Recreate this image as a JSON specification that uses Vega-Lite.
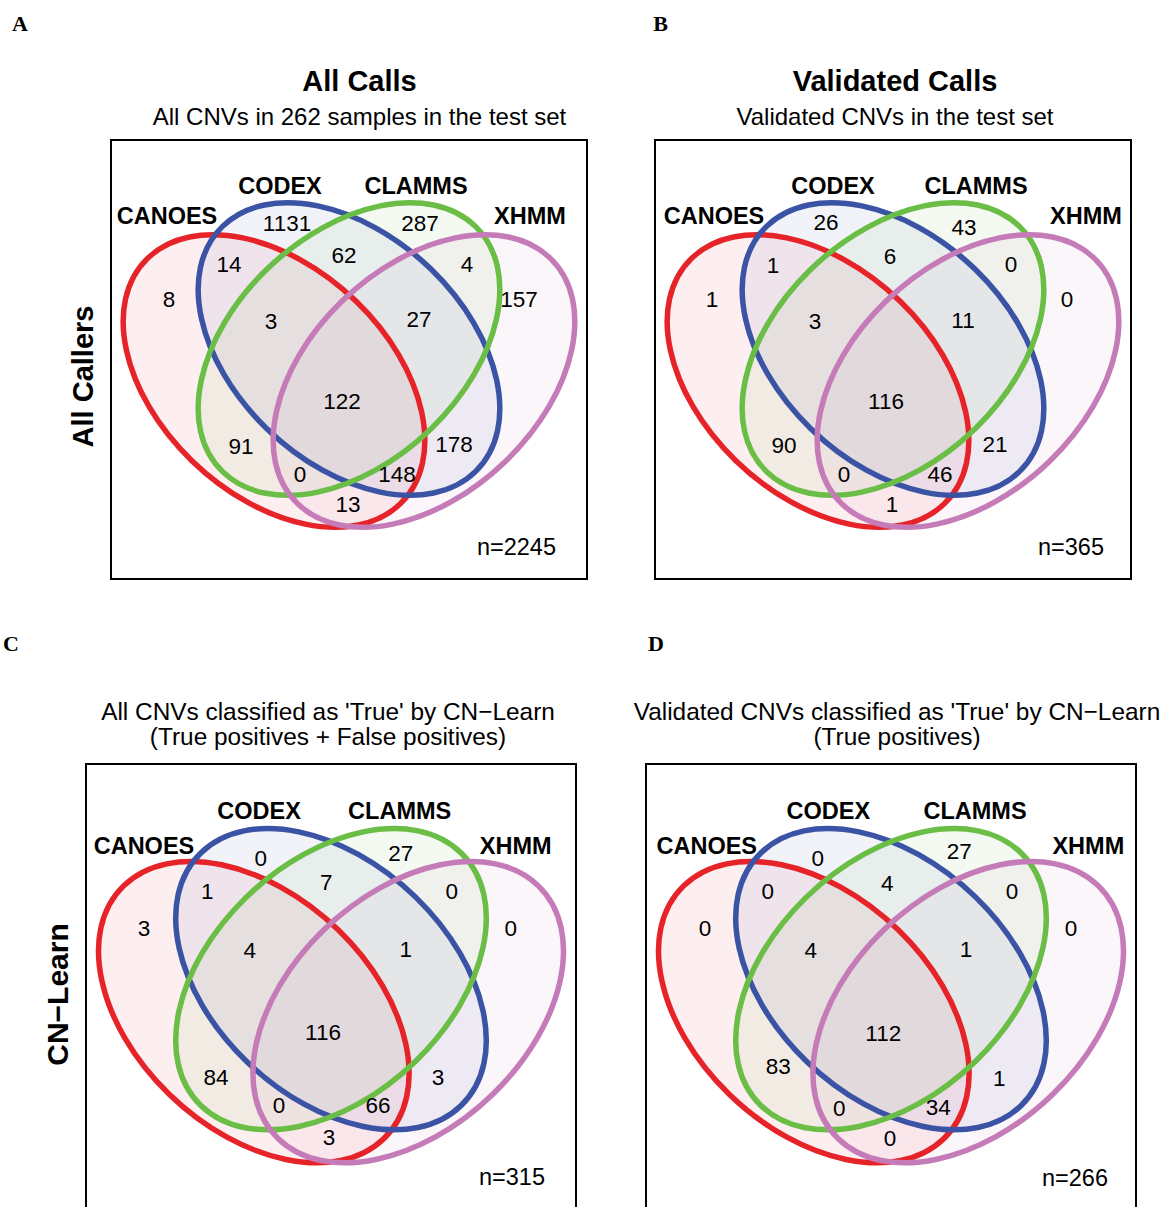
{
  "$schema": "https://vega.github.io/schema/vega-lite/v6.json",
  "background": "white",
  "padding": {"left": 3, "top": 12, "right": 0, "bottom": 0},
  "datasets": {
    "ellipses": [
      {"set": "CANOES", "x": 163, "y": 241},
      {"set": "CODEX", "x": 238, "y": 209},
      {"set": "CLAMMS", "x": 238, "y": 209},
      {"set": "XHMM", "x": 313, "y": 241}
    ],
    "frame": [
      {"x": 0, "x2": 476, "y": 0, "y2": 439}
    ],
    "labels": [
      {"panel": "A", "set": "CANOES", "x": 56, "y": 77},
      {"panel": "A", "set": "CODEX", "x": 169, "y": 47},
      {"panel": "A", "set": "CLAMMS", "x": 305, "y": 47},
      {"panel": "A", "set": "XHMM", "x": 419, "y": 77},
      {"panel": "B", "set": "CANOES", "x": 59, "y": 77},
      {"panel": "B", "set": "CODEX", "x": 178, "y": 47},
      {"panel": "B", "set": "CLAMMS", "x": 321, "y": 47},
      {"panel": "B", "set": "XHMM", "x": 431, "y": 77},
      {"panel": "C", "set": "CANOES", "x": 56.3, "y": 80.6},
      {"panel": "C", "set": "CODEX", "x": 168.1, "y": 46.6},
      {"panel": "C", "set": "CLAMMS", "x": 304.7, "y": 46.6},
      {"panel": "C", "set": "XHMM", "x": 417.4, "y": 80.6},
      {"panel": "D", "set": "CANOES", "x": 59, "y": 80.6},
      {"panel": "D", "set": "CODEX", "x": 177.1, "y": 46.6},
      {"panel": "D", "set": "CLAMMS", "x": 319.6, "y": 46.6},
      {"panel": "D", "set": "XHMM", "x": 429.7, "y": 80.6}
    ],
    "counts": [
      {"panel": "A", "region": "CODEX", "x": 176, "y": 84, "count": 1131},
      {"panel": "A", "region": "CLAMMS", "x": 309, "y": 84, "count": 287},
      {"panel": "A", "region": "CANOES&CODEX", "x": 118, "y": 125, "count": 14},
      {"panel": "A", "region": "CODEX&CLAMMS", "x": 233, "y": 116, "count": 62},
      {"panel": "A", "region": "CLAMMS&XHMM", "x": 356, "y": 125, "count": 4},
      {"panel": "A", "region": "CANOES", "x": 58, "y": 160, "count": 8},
      {"panel": "A", "region": "XHMM", "x": 408, "y": 160, "count": 157},
      {"panel": "A", "region": "CANOES&CODEX&CLAMMS", "x": 160, "y": 182, "count": 3},
      {"panel": "A", "region": "CODEX&CLAMMS&XHMM", "x": 308, "y": 180, "count": 27},
      {"panel": "A", "region": "ALL", "x": 231, "y": 262, "count": 122},
      {"panel": "A", "region": "CANOES&CLAMMS", "x": 130, "y": 307, "count": 91},
      {"panel": "A", "region": "CODEX&XHMM", "x": 343, "y": 305, "count": 178},
      {"panel": "A", "region": "CANOES&CLAMMS&XHMM", "x": 189, "y": 335, "count": 0},
      {"panel": "A", "region": "CANOES&CODEX&XHMM", "x": 286, "y": 335, "count": 148},
      {"panel": "A", "region": "CANOES&XHMM", "x": 237, "y": 365, "count": 13},
      {"panel": "B", "region": "CODEX", "x": 171, "y": 83, "count": 26},
      {"panel": "B", "region": "CLAMMS", "x": 309, "y": 88, "count": 43},
      {"panel": "B", "region": "CANOES&CODEX", "x": 118, "y": 126, "count": 1},
      {"panel": "B", "region": "CODEX&CLAMMS", "x": 235, "y": 117, "count": 6},
      {"panel": "B", "region": "CLAMMS&XHMM", "x": 356, "y": 125, "count": 0},
      {"panel": "B", "region": "CANOES", "x": 57, "y": 160, "count": 1},
      {"panel": "B", "region": "XHMM", "x": 412, "y": 160, "count": 0},
      {"panel": "B", "region": "CANOES&CODEX&CLAMMS", "x": 160, "y": 182, "count": 3},
      {"panel": "B", "region": "CODEX&CLAMMS&XHMM", "x": 308, "y": 181, "count": 11},
      {"panel": "B", "region": "ALL", "x": 231, "y": 262, "count": 116},
      {"panel": "B", "region": "CANOES&CLAMMS", "x": 129, "y": 306, "count": 90},
      {"panel": "B", "region": "CODEX&XHMM", "x": 340, "y": 305, "count": 21},
      {"panel": "B", "region": "CANOES&CLAMMS&XHMM", "x": 189, "y": 335, "count": 0},
      {"panel": "B", "region": "CANOES&CODEX&XHMM", "x": 285, "y": 335, "count": 46},
      {"panel": "B", "region": "CANOES&XHMM", "x": 237, "y": 365, "count": 1},
      {"panel": "C", "region": "CODEX", "x": 169.7, "y": 92, "count": 0},
      {"panel": "C", "region": "CLAMMS", "x": 305.7, "y": 87, "count": 27},
      {"panel": "C", "region": "CANOES&CODEX", "x": 117.8, "y": 124.3, "count": 1},
      {"panel": "C", "region": "CODEX&CLAMMS", "x": 233.4, "y": 115.3, "count": 7},
      {"panel": "C", "region": "CLAMMS&XHMM", "x": 355.3, "y": 124.3, "count": 0},
      {"panel": "C", "region": "CANOES", "x": 56.3, "y": 160, "count": 3},
      {"panel": "C", "region": "XHMM", "x": 412.6, "y": 160, "count": 0},
      {"panel": "C", "region": "CANOES&CODEX&CLAMMS", "x": 159, "y": 182, "count": 4},
      {"panel": "C", "region": "CODEX&CLAMMS&XHMM", "x": 310.6, "y": 181, "count": 1},
      {"panel": "C", "region": "ALL", "x": 230.2, "y": 261.3, "count": 116},
      {"panel": "C", "region": "CANOES&CLAMMS", "x": 126.3, "y": 305, "count": 84},
      {"panel": "C", "region": "CODEX&XHMM", "x": 342, "y": 305, "count": 3},
      {"panel": "C", "region": "CANOES&CLAMMS&XHMM", "x": 187.5, "y": 332.2, "count": 0},
      {"panel": "C", "region": "CANOES&CODEX&XHMM", "x": 283.7, "y": 332.2, "count": 66},
      {"panel": "C", "region": "CANOES&XHMM", "x": 236.1, "y": 363.3, "count": 3},
      {"panel": "D", "region": "CODEX", "x": 166.8, "y": 92, "count": 0},
      {"panel": "D", "region": "CLAMMS", "x": 304.4, "y": 85.5, "count": 27},
      {"panel": "D", "region": "CANOES&CODEX", "x": 118.2, "y": 124.3, "count": 0},
      {"panel": "D", "region": "CODEX&CLAMMS", "x": 234.4, "y": 116.3, "count": 4},
      {"panel": "D", "region": "CLAMMS&XHMM", "x": 355.6, "y": 124.3, "count": 0},
      {"panel": "D", "region": "CANOES", "x": 57.3, "y": 160, "count": 0},
      {"panel": "D", "region": "XHMM", "x": 412.9, "y": 160, "count": 0},
      {"panel": "D", "region": "CANOES&CODEX&CLAMMS", "x": 160, "y": 182, "count": 4},
      {"panel": "D", "region": "CODEX&CLAMMS&XHMM", "x": 310.9, "y": 181, "count": 1},
      {"panel": "D", "region": "ALL", "x": 230.5, "y": 262, "count": 112},
      {"panel": "D", "region": "CANOES&CLAMMS", "x": 128.5, "y": 294.3, "count": 83},
      {"panel": "D", "region": "CODEX&XHMM", "x": 343.2, "y": 305.7, "count": 1},
      {"panel": "D", "region": "CANOES&CLAMMS&XHMM", "x": 187.8, "y": 334.9, "count": 0},
      {"panel": "D", "region": "CANOES&CODEX&XHMM", "x": 284, "y": 334.2, "count": 34},
      {"panel": "D", "region": "CANOES&XHMM", "x": 237, "y": 364, "count": 0}
    ],
    "totals": [
      {"panel": "A", "label": "n=2245", "x": 445, "y": 408},
      {"panel": "B", "label": "n=365", "x": 449, "y": 408},
      {"panel": "C", "label": "n=315", "x": 445.9, "y": 402.2},
      {"panel": "D", "label": "n=266", "x": 448.8, "y": 402.8}
    ],
    "letters": [
      {"panel": "A", "letter": "A", "x": -91, "y": -116.5},
      {"panel": "B", "letter": "B", "x": 5.5, "y": -116.5},
      {"panel": "C", "letter": "C", "x": -72.9, "y": -117},
      {"panel": "D", "letter": "D", "x": 9.7, "y": -117}
    ]
  },
  "spacing": 52,
  "vconcat": [
    {
      "spacing": 65,
      "hconcat": [
        {
          "width": 501, "height": 439,
          "title": {"text": "All Calls", "subtitle": "All CNVs in 262 samples in the test set", "fontSize": 29, "fontWeight": "bold", "subtitleFontSize": 24, "subtitlePadding": 9, "offset": -117, "dx": 23},
          "encoding": {
            "x": {"field": "x", "type": "quantitative", "scale": {"domain": [-25, 476], "nice": false, "zero": false}, "axis": null},
            "y": {"field": "y", "type": "quantitative", "scale": {"domain": [0, 439], "nice": false, "zero": false, "reverse": true},
                  "axis": {"title": "All Callers", "titleFontSize": 29, "titleFontWeight": "bold", "titleFont": "Liberation Sans", "titleColor": "black", "labels": false, "ticks": false, "domain": false, "grid": false, "offset": -25, "titlePadding": 13, "titleY": 236}}
          },
          "layer": [
            {"data": {"name": "ellipses"}, "mark": {"type": "point", "filled": true, "size": 127878, "opacity": 1, "fillOpacity": 0.07, "strokeWidth": 0},
             "encoding": {"shape": {"field": "set", "type": "nominal", "legend": null, "scale": {"domain": ["CANOES", "CODEX", "CLAMMS", "XHMM"], "range": ["M 0.7071 0.6859 C 0.4533 0.9322 -0.0691 0.8246 -0.4596 0.4458 C -0.8501 0.067 -0.961 -0.4397 -0.7071 -0.6859 C -0.4533 -0.9322 0.0691 -0.8246 0.4596 -0.4458 C 0.8501 -0.067 0.961 0.4397 0.7071 0.6859 Z", "M 0.7071 0.6859 C 0.4533 0.9322 -0.0691 0.8246 -0.4596 0.4458 C -0.8501 0.067 -0.961 -0.4397 -0.7071 -0.6859 C -0.4533 -0.9322 0.0691 -0.8246 0.4596 -0.4458 C 0.8501 -0.067 0.961 0.4397 0.7071 0.6859 Z", "M -0.7071 0.6859 C -0.4533 0.9322 0.0691 0.8246 0.4596 0.4458 C 0.8501 0.067 0.961 -0.4397 0.7071 -0.6859 C 0.4533 -0.9322 -0.0691 -0.8246 -0.4596 -0.4458 C -0.8501 -0.067 -0.961 0.4397 -0.7071 0.6859 Z", "M -0.7071 0.6859 C -0.4533 0.9322 0.0691 0.8246 0.4596 0.4458 C 0.8501 0.067 0.961 -0.4397 0.7071 -0.6859 C 0.4533 -0.9322 -0.0691 -0.8246 -0.4596 -0.4458 C -0.8501 -0.067 -0.961 0.4397 -0.7071 0.6859 Z"]}},
                          "fill": {"field": "set", "type": "nominal", "legend": null, "scale": {"domain": ["CANOES", "CODEX", "CLAMMS", "XHMM"], "range": ["#e62328", "#3a53a4", "#6abd45", "#c47bb7"]}}}},
            {"data": {"name": "ellipses"}, "mark": {"type": "point", "filled": false, "size": 127878, "opacity": 1, "strokeWidth": 5.5},
             "encoding": {"shape": {"field": "set", "type": "nominal", "legend": null, "scale": {"domain": ["CANOES", "CODEX", "CLAMMS", "XHMM"], "range": ["M 0.7071 0.6859 C 0.4533 0.9322 -0.0691 0.8246 -0.4596 0.4458 C -0.8501 0.067 -0.961 -0.4397 -0.7071 -0.6859 C -0.4533 -0.9322 0.0691 -0.8246 0.4596 -0.4458 C 0.8501 -0.067 0.961 0.4397 0.7071 0.6859 Z", "M 0.7071 0.6859 C 0.4533 0.9322 -0.0691 0.8246 -0.4596 0.4458 C -0.8501 0.067 -0.961 -0.4397 -0.7071 -0.6859 C -0.4533 -0.9322 0.0691 -0.8246 0.4596 -0.4458 C 0.8501 -0.067 0.961 0.4397 0.7071 0.6859 Z", "M -0.7071 0.6859 C -0.4533 0.9322 0.0691 0.8246 0.4596 0.4458 C 0.8501 0.067 0.961 -0.4397 0.7071 -0.6859 C 0.4533 -0.9322 -0.0691 -0.8246 -0.4596 -0.4458 C -0.8501 -0.067 -0.961 0.4397 -0.7071 0.6859 Z", "M -0.7071 0.6859 C -0.4533 0.9322 0.0691 0.8246 0.4596 0.4458 C 0.8501 0.067 0.961 -0.4397 0.7071 -0.6859 C 0.4533 -0.9322 -0.0691 -0.8246 -0.4596 -0.4458 C -0.8501 -0.067 -0.961 0.4397 -0.7071 0.6859 Z"]}},
                          "stroke": {"field": "set", "type": "nominal", "legend": null, "scale": {"domain": ["CANOES", "CODEX", "CLAMMS", "XHMM"], "range": ["#e62328", "#3a53a4", "#6abd45", "#c47bb7"]}}}},
            {"data": {"name": "frame"}, "mark": {"type": "rect", "filled": false, "stroke": "black", "strokeWidth": 2, "opacity": 1},
             "encoding": {"x2": {"field": "x2"}, "y2": {"field": "y2"}}},
            {"data": {"name": "counts"}, "transform": [{"filter": "datum.panel == 'A'"}], "mark": {"type": "text", "fontSize": 22.5, "font": "Liberation Sans", "color": "black"},
             "encoding": {"text": {"field": "count", "type": "quantitative", "format": "d"}}},
            {"data": {"name": "labels"}, "transform": [{"filter": "datum.panel == 'A'"}], "mark": {"type": "text", "fontSize": 23.5, "fontWeight": "bold", "font": "Liberation Sans", "color": "black"},
             "encoding": {"text": {"field": "set", "type": "nominal"}}},
            {"data": {"name": "totals"}, "transform": [{"filter": "datum.panel == 'A'"}], "mark": {"type": "text", "fontSize": 23.5, "align": "right", "font": "Liberation Sans", "color": "black"},
             "encoding": {"text": {"field": "label", "type": "nominal"}}},
            {"data": {"name": "letters"}, "transform": [{"filter": "datum.panel == 'A'"}], "mark": {"type": "text", "fontSize": 22, "fontWeight": "bold", "font": "Liberation Serif", "color": "black"},
             "encoding": {"text": {"field": "letter", "type": "nominal"}}}
          ]
        },
        {
          "width": 476, "height": 439,
          "title": {"text": "Validated Calls", "subtitle": "Validated CNVs in the test set", "fontSize": 29, "fontWeight": "bold", "subtitleFontSize": 24, "subtitlePadding": 9, "offset": -117, "dx": 2},
          "encoding": {
            "x": {"field": "x", "type": "quantitative", "scale": {"domain": [0, 476], "nice": false, "zero": false}, "axis": null},
            "y": {"field": "y", "type": "quantitative", "scale": {"domain": [0, 439], "nice": false, "zero": false, "reverse": true}, "axis": null}
          },
          "layer": [
            {"data": {"name": "ellipses"}, "mark": {"type": "point", "filled": true, "size": 127878, "opacity": 1, "fillOpacity": 0.07, "strokeWidth": 0},
             "encoding": {"shape": {"field": "set", "type": "nominal", "legend": null, "scale": {"domain": ["CANOES", "CODEX", "CLAMMS", "XHMM"], "range": ["M 0.7071 0.6859 C 0.4533 0.9322 -0.0691 0.8246 -0.4596 0.4458 C -0.8501 0.067 -0.961 -0.4397 -0.7071 -0.6859 C -0.4533 -0.9322 0.0691 -0.8246 0.4596 -0.4458 C 0.8501 -0.067 0.961 0.4397 0.7071 0.6859 Z", "M 0.7071 0.6859 C 0.4533 0.9322 -0.0691 0.8246 -0.4596 0.4458 C -0.8501 0.067 -0.961 -0.4397 -0.7071 -0.6859 C -0.4533 -0.9322 0.0691 -0.8246 0.4596 -0.4458 C 0.8501 -0.067 0.961 0.4397 0.7071 0.6859 Z", "M -0.7071 0.6859 C -0.4533 0.9322 0.0691 0.8246 0.4596 0.4458 C 0.8501 0.067 0.961 -0.4397 0.7071 -0.6859 C 0.4533 -0.9322 -0.0691 -0.8246 -0.4596 -0.4458 C -0.8501 -0.067 -0.961 0.4397 -0.7071 0.6859 Z", "M -0.7071 0.6859 C -0.4533 0.9322 0.0691 0.8246 0.4596 0.4458 C 0.8501 0.067 0.961 -0.4397 0.7071 -0.6859 C 0.4533 -0.9322 -0.0691 -0.8246 -0.4596 -0.4458 C -0.8501 -0.067 -0.961 0.4397 -0.7071 0.6859 Z"]}},
                          "fill": {"field": "set", "type": "nominal", "legend": null, "scale": {"domain": ["CANOES", "CODEX", "CLAMMS", "XHMM"], "range": ["#e62328", "#3a53a4", "#6abd45", "#c47bb7"]}}}},
            {"data": {"name": "ellipses"}, "mark": {"type": "point", "filled": false, "size": 127878, "opacity": 1, "strokeWidth": 5.5},
             "encoding": {"shape": {"field": "set", "type": "nominal", "legend": null, "scale": {"domain": ["CANOES", "CODEX", "CLAMMS", "XHMM"], "range": ["M 0.7071 0.6859 C 0.4533 0.9322 -0.0691 0.8246 -0.4596 0.4458 C -0.8501 0.067 -0.961 -0.4397 -0.7071 -0.6859 C -0.4533 -0.9322 0.0691 -0.8246 0.4596 -0.4458 C 0.8501 -0.067 0.961 0.4397 0.7071 0.6859 Z", "M 0.7071 0.6859 C 0.4533 0.9322 -0.0691 0.8246 -0.4596 0.4458 C -0.8501 0.067 -0.961 -0.4397 -0.7071 -0.6859 C -0.4533 -0.9322 0.0691 -0.8246 0.4596 -0.4458 C 0.8501 -0.067 0.961 0.4397 0.7071 0.6859 Z", "M -0.7071 0.6859 C -0.4533 0.9322 0.0691 0.8246 0.4596 0.4458 C 0.8501 0.067 0.961 -0.4397 0.7071 -0.6859 C 0.4533 -0.9322 -0.0691 -0.8246 -0.4596 -0.4458 C -0.8501 -0.067 -0.961 0.4397 -0.7071 0.6859 Z", "M -0.7071 0.6859 C -0.4533 0.9322 0.0691 0.8246 0.4596 0.4458 C 0.8501 0.067 0.961 -0.4397 0.7071 -0.6859 C 0.4533 -0.9322 -0.0691 -0.8246 -0.4596 -0.4458 C -0.8501 -0.067 -0.961 0.4397 -0.7071 0.6859 Z"]}},
                          "stroke": {"field": "set", "type": "nominal", "legend": null, "scale": {"domain": ["CANOES", "CODEX", "CLAMMS", "XHMM"], "range": ["#e62328", "#3a53a4", "#6abd45", "#c47bb7"]}}}},
            {"data": {"name": "frame"}, "mark": {"type": "rect", "filled": false, "stroke": "black", "strokeWidth": 2, "opacity": 1},
             "encoding": {"x2": {"field": "x2"}, "y2": {"field": "y2"}}},
            {"data": {"name": "counts"}, "transform": [{"filter": "datum.panel == 'B'"}], "mark": {"type": "text", "fontSize": 22.5, "font": "Liberation Sans", "color": "black"},
             "encoding": {"text": {"field": "count", "type": "quantitative", "format": "d"}}},
            {"data": {"name": "labels"}, "transform": [{"filter": "datum.panel == 'B'"}], "mark": {"type": "text", "fontSize": 23.5, "fontWeight": "bold", "font": "Liberation Sans", "color": "black"},
             "encoding": {"text": {"field": "set", "type": "nominal"}}},
            {"data": {"name": "totals"}, "transform": [{"filter": "datum.panel == 'B'"}], "mark": {"type": "text", "fontSize": 23.5, "align": "right", "font": "Liberation Sans", "color": "black"},
             "encoding": {"text": {"field": "label", "type": "nominal"}}},
            {"data": {"name": "letters"}, "transform": [{"filter": "datum.panel == 'B'"}], "mark": {"type": "text", "fontSize": 22, "fontWeight": "bold", "font": "Liberation Serif", "color": "black"},
             "encoding": {"text": {"field": "letter", "type": "nominal"}}}
          ]
        }
      ]
    },
    {
      "spacing": 56,
      "hconcat": [
        {
          "width": 490, "height": 452,
          "title": {"text": ["All CNVs classified as 'True' by CN−Learn", "(True positives + False positives)"], "fontSize": 24.4, "fontWeight": "normal", "lineHeight": 25, "offset": -118, "dx": -3},
          "encoding": {
            "x": {"field": "x", "type": "quantitative", "scale": {"domain": [0, 476], "nice": false, "zero": false}, "axis": null},
            "y": {"field": "y", "type": "quantitative", "scale": {"domain": [0, 439], "nice": false, "zero": false, "reverse": true},
                  "axis": {"title": "CN−Learn", "titleFontSize": 30, "titleFontWeight": "bold", "titleFont": "Liberation Sans", "titleColor": "black", "labels": false, "ticks": false, "domain": false, "grid": false, "titlePadding": 13, "titleY": 230}}
          },
          "layer": [
            {"data": {"name": "ellipses"}, "mark": {"type": "point", "filled": true, "size": 135571, "opacity": 1, "fillOpacity": 0.07, "strokeWidth": 0},
             "encoding": {"shape": {"field": "set", "type": "nominal", "legend": null, "scale": {"domain": ["CANOES", "CODEX", "CLAMMS", "XHMM"], "range": ["M 0.7071 0.6859 C 0.4533 0.9322 -0.0691 0.8246 -0.4596 0.4458 C -0.8501 0.067 -0.961 -0.4397 -0.7071 -0.6859 C -0.4533 -0.9322 0.0691 -0.8246 0.4596 -0.4458 C 0.8501 -0.067 0.961 0.4397 0.7071 0.6859 Z", "M 0.7071 0.6859 C 0.4533 0.9322 -0.0691 0.8246 -0.4596 0.4458 C -0.8501 0.067 -0.961 -0.4397 -0.7071 -0.6859 C -0.4533 -0.9322 0.0691 -0.8246 0.4596 -0.4458 C 0.8501 -0.067 0.961 0.4397 0.7071 0.6859 Z", "M -0.7071 0.6859 C -0.4533 0.9322 0.0691 0.8246 0.4596 0.4458 C 0.8501 0.067 0.961 -0.4397 0.7071 -0.6859 C 0.4533 -0.9322 -0.0691 -0.8246 -0.4596 -0.4458 C -0.8501 -0.067 -0.961 0.4397 -0.7071 0.6859 Z", "M -0.7071 0.6859 C -0.4533 0.9322 0.0691 0.8246 0.4596 0.4458 C 0.8501 0.067 0.961 -0.4397 0.7071 -0.6859 C 0.4533 -0.9322 -0.0691 -0.8246 -0.4596 -0.4458 C -0.8501 -0.067 -0.961 0.4397 -0.7071 0.6859 Z"]}},
                          "fill": {"field": "set", "type": "nominal", "legend": null, "scale": {"domain": ["CANOES", "CODEX", "CLAMMS", "XHMM"], "range": ["#e62328", "#3a53a4", "#6abd45", "#c47bb7"]}}}},
            {"data": {"name": "ellipses"}, "mark": {"type": "point", "filled": false, "size": 135571, "opacity": 1, "strokeWidth": 5.5},
             "encoding": {"shape": {"field": "set", "type": "nominal", "legend": null, "scale": {"domain": ["CANOES", "CODEX", "CLAMMS", "XHMM"], "range": ["M 0.7071 0.6859 C 0.4533 0.9322 -0.0691 0.8246 -0.4596 0.4458 C -0.8501 0.067 -0.961 -0.4397 -0.7071 -0.6859 C -0.4533 -0.9322 0.0691 -0.8246 0.4596 -0.4458 C 0.8501 -0.067 0.961 0.4397 0.7071 0.6859 Z", "M 0.7071 0.6859 C 0.4533 0.9322 -0.0691 0.8246 -0.4596 0.4458 C -0.8501 0.067 -0.961 -0.4397 -0.7071 -0.6859 C -0.4533 -0.9322 0.0691 -0.8246 0.4596 -0.4458 C 0.8501 -0.067 0.961 0.4397 0.7071 0.6859 Z", "M -0.7071 0.6859 C -0.4533 0.9322 0.0691 0.8246 0.4596 0.4458 C 0.8501 0.067 0.961 -0.4397 0.7071 -0.6859 C 0.4533 -0.9322 -0.0691 -0.8246 -0.4596 -0.4458 C -0.8501 -0.067 -0.961 0.4397 -0.7071 0.6859 Z", "M -0.7071 0.6859 C -0.4533 0.9322 0.0691 0.8246 0.4596 0.4458 C 0.8501 0.067 0.961 -0.4397 0.7071 -0.6859 C 0.4533 -0.9322 -0.0691 -0.8246 -0.4596 -0.4458 C -0.8501 -0.067 -0.961 0.4397 -0.7071 0.6859 Z"]}},
                          "stroke": {"field": "set", "type": "nominal", "legend": null, "scale": {"domain": ["CANOES", "CODEX", "CLAMMS", "XHMM"], "range": ["#e62328", "#3a53a4", "#6abd45", "#c47bb7"]}}}},
            {"data": {"name": "frame"}, "mark": {"type": "rect", "filled": false, "stroke": "black", "strokeWidth": 2, "opacity": 1},
             "encoding": {"x2": {"field": "x2"}, "y2": {"field": "y2"}}},
            {"data": {"name": "counts"}, "transform": [{"filter": "datum.panel == 'C'"}], "mark": {"type": "text", "fontSize": 22.5, "font": "Liberation Sans", "color": "black"},
             "encoding": {"text": {"field": "count", "type": "quantitative", "format": "d"}}},
            {"data": {"name": "labels"}, "transform": [{"filter": "datum.panel == 'C'"}], "mark": {"type": "text", "fontSize": 23.5, "fontWeight": "bold", "font": "Liberation Sans", "color": "black"},
             "encoding": {"text": {"field": "set", "type": "nominal"}}},
            {"data": {"name": "totals"}, "transform": [{"filter": "datum.panel == 'C'"}], "mark": {"type": "text", "fontSize": 23.5, "align": "right", "font": "Liberation Sans", "color": "black"},
             "encoding": {"text": {"field": "label", "type": "nominal"}}},
            {"data": {"name": "letters"}, "transform": [{"filter": "datum.panel == 'C'"}], "mark": {"type": "text", "fontSize": 22, "fontWeight": "bold", "font": "Liberation Serif", "color": "black"},
             "encoding": {"text": {"field": "letter", "type": "nominal"}}}
          ]
        },
        {
          "width": 490, "height": 452,
          "title": {"text": ["Validated CNVs classified as 'True' by CN−Learn", "(True positives)"], "fontSize": 24.4, "fontWeight": "normal", "lineHeight": 25, "offset": -118, "dx": 6},
          "encoding": {
            "x": {"field": "x", "type": "quantitative", "scale": {"domain": [0, 476], "nice": false, "zero": false}, "axis": null},
            "y": {"field": "y", "type": "quantitative", "scale": {"domain": [0, 439], "nice": false, "zero": false, "reverse": true}, "axis": null}
          },
          "layer": [
            {"data": {"name": "ellipses"}, "mark": {"type": "point", "filled": true, "size": 135571, "opacity": 1, "fillOpacity": 0.07, "strokeWidth": 0},
             "encoding": {"shape": {"field": "set", "type": "nominal", "legend": null, "scale": {"domain": ["CANOES", "CODEX", "CLAMMS", "XHMM"], "range": ["M 0.7071 0.6859 C 0.4533 0.9322 -0.0691 0.8246 -0.4596 0.4458 C -0.8501 0.067 -0.961 -0.4397 -0.7071 -0.6859 C -0.4533 -0.9322 0.0691 -0.8246 0.4596 -0.4458 C 0.8501 -0.067 0.961 0.4397 0.7071 0.6859 Z", "M 0.7071 0.6859 C 0.4533 0.9322 -0.0691 0.8246 -0.4596 0.4458 C -0.8501 0.067 -0.961 -0.4397 -0.7071 -0.6859 C -0.4533 -0.9322 0.0691 -0.8246 0.4596 -0.4458 C 0.8501 -0.067 0.961 0.4397 0.7071 0.6859 Z", "M -0.7071 0.6859 C -0.4533 0.9322 0.0691 0.8246 0.4596 0.4458 C 0.8501 0.067 0.961 -0.4397 0.7071 -0.6859 C 0.4533 -0.9322 -0.0691 -0.8246 -0.4596 -0.4458 C -0.8501 -0.067 -0.961 0.4397 -0.7071 0.6859 Z", "M -0.7071 0.6859 C -0.4533 0.9322 0.0691 0.8246 0.4596 0.4458 C 0.8501 0.067 0.961 -0.4397 0.7071 -0.6859 C 0.4533 -0.9322 -0.0691 -0.8246 -0.4596 -0.4458 C -0.8501 -0.067 -0.961 0.4397 -0.7071 0.6859 Z"]}},
                          "fill": {"field": "set", "type": "nominal", "legend": null, "scale": {"domain": ["CANOES", "CODEX", "CLAMMS", "XHMM"], "range": ["#e62328", "#3a53a4", "#6abd45", "#c47bb7"]}}}},
            {"data": {"name": "ellipses"}, "mark": {"type": "point", "filled": false, "size": 135571, "opacity": 1, "strokeWidth": 5.5},
             "encoding": {"shape": {"field": "set", "type": "nominal", "legend": null, "scale": {"domain": ["CANOES", "CODEX", "CLAMMS", "XHMM"], "range": ["M 0.7071 0.6859 C 0.4533 0.9322 -0.0691 0.8246 -0.4596 0.4458 C -0.8501 0.067 -0.961 -0.4397 -0.7071 -0.6859 C -0.4533 -0.9322 0.0691 -0.8246 0.4596 -0.4458 C 0.8501 -0.067 0.961 0.4397 0.7071 0.6859 Z", "M 0.7071 0.6859 C 0.4533 0.9322 -0.0691 0.8246 -0.4596 0.4458 C -0.8501 0.067 -0.961 -0.4397 -0.7071 -0.6859 C -0.4533 -0.9322 0.0691 -0.8246 0.4596 -0.4458 C 0.8501 -0.067 0.961 0.4397 0.7071 0.6859 Z", "M -0.7071 0.6859 C -0.4533 0.9322 0.0691 0.8246 0.4596 0.4458 C 0.8501 0.067 0.961 -0.4397 0.7071 -0.6859 C 0.4533 -0.9322 -0.0691 -0.8246 -0.4596 -0.4458 C -0.8501 -0.067 -0.961 0.4397 -0.7071 0.6859 Z", "M -0.7071 0.6859 C -0.4533 0.9322 0.0691 0.8246 0.4596 0.4458 C 0.8501 0.067 0.961 -0.4397 0.7071 -0.6859 C 0.4533 -0.9322 -0.0691 -0.8246 -0.4596 -0.4458 C -0.8501 -0.067 -0.961 0.4397 -0.7071 0.6859 Z"]}},
                          "stroke": {"field": "set", "type": "nominal", "legend": null, "scale": {"domain": ["CANOES", "CODEX", "CLAMMS", "XHMM"], "range": ["#e62328", "#3a53a4", "#6abd45", "#c47bb7"]}}}},
            {"data": {"name": "frame"}, "mark": {"type": "rect", "filled": false, "stroke": "black", "strokeWidth": 2, "opacity": 1},
             "encoding": {"x2": {"field": "x2"}, "y2": {"field": "y2"}}},
            {"data": {"name": "counts"}, "transform": [{"filter": "datum.panel == 'D'"}], "mark": {"type": "text", "fontSize": 22.5, "font": "Liberation Sans", "color": "black"},
             "encoding": {"text": {"field": "count", "type": "quantitative", "format": "d"}}},
            {"data": {"name": "labels"}, "transform": [{"filter": "datum.panel == 'D'"}], "mark": {"type": "text", "fontSize": 23.5, "fontWeight": "bold", "font": "Liberation Sans", "color": "black"},
             "encoding": {"text": {"field": "set", "type": "nominal"}}},
            {"data": {"name": "totals"}, "transform": [{"filter": "datum.panel == 'D'"}], "mark": {"type": "text", "fontSize": 23.5, "align": "right", "font": "Liberation Sans", "color": "black"},
             "encoding": {"text": {"field": "label", "type": "nominal"}}},
            {"data": {"name": "letters"}, "transform": [{"filter": "datum.panel == 'D'"}], "mark": {"type": "text", "fontSize": 22, "fontWeight": "bold", "font": "Liberation Serif", "color": "black"},
             "encoding": {"text": {"field": "letter", "type": "nominal"}}}
          ]
        }
      ]
    }
  ],
  "config": {
    "view": {"stroke": null},
    "font": "Liberation Sans",
    "title": {"color": "black", "subtitleColor": "black", "font": "Liberation Sans", "subtitleFont": "Liberation Sans", "frame": "group", "anchor": "middle"}
  }
}
